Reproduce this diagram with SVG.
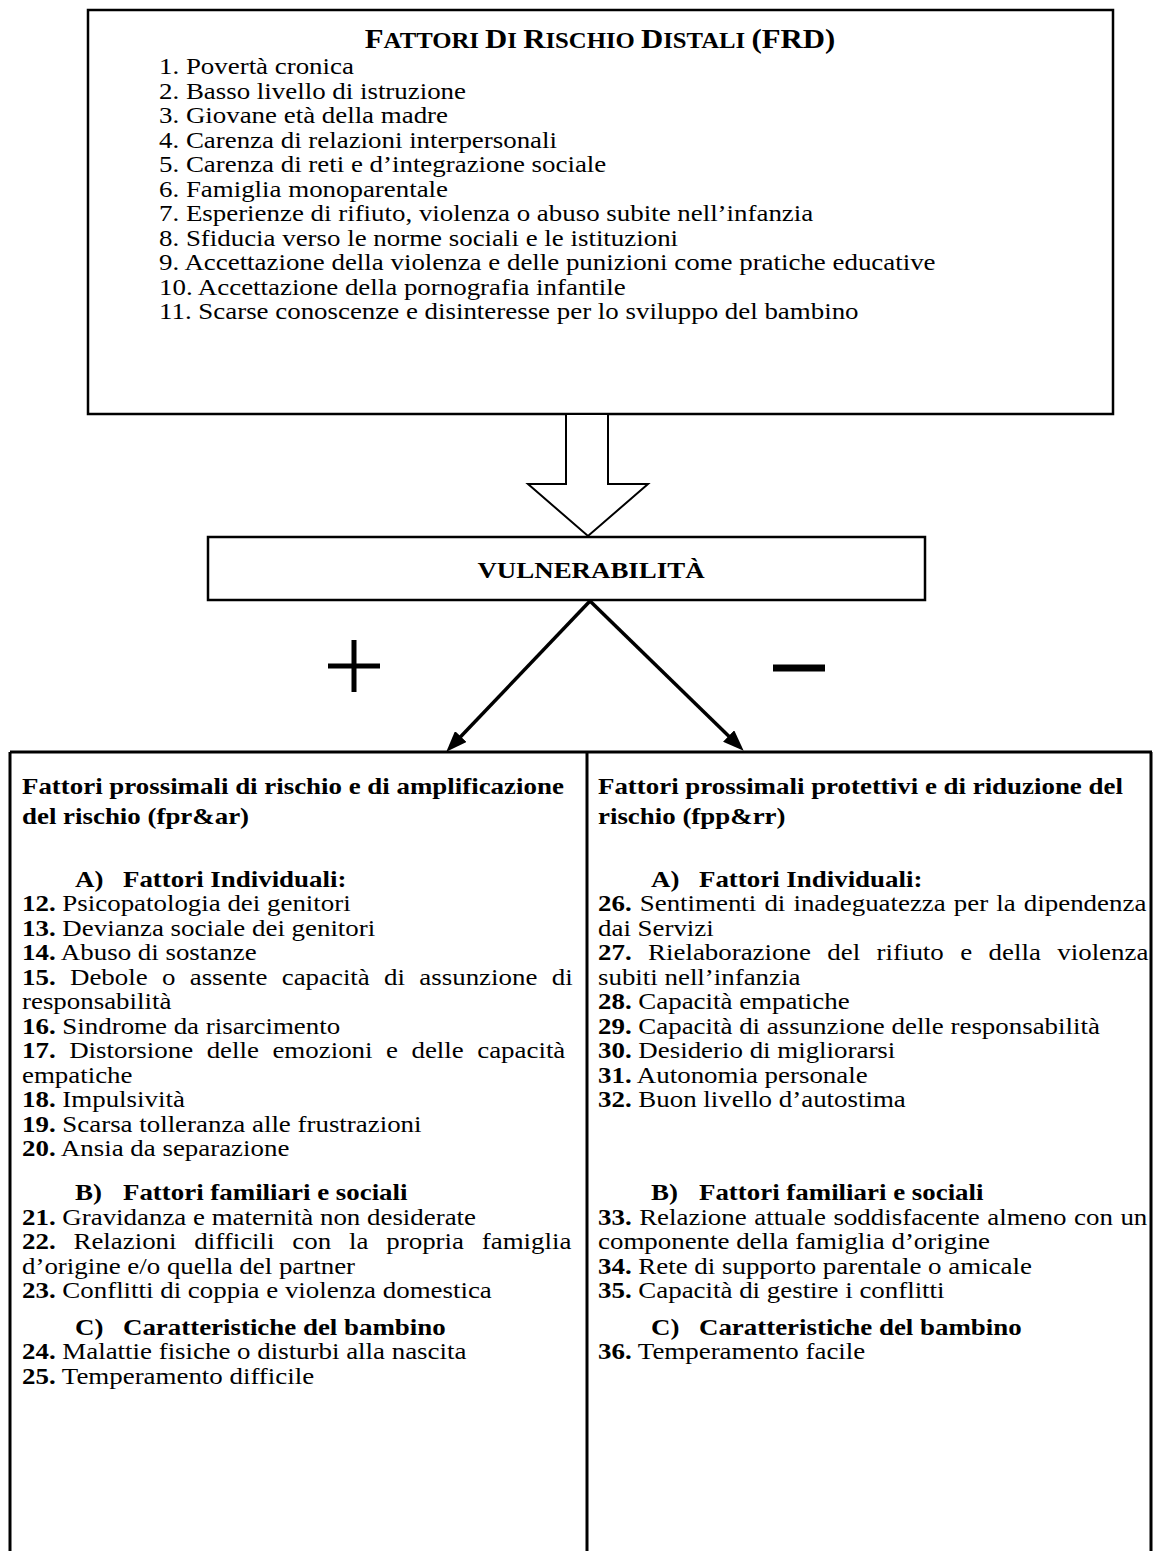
<svg xmlns="http://www.w3.org/2000/svg" width="1153" height="1551" viewBox="0 0 1153 1551">
<style>
text{font-family:"Liberation Serif","Times New Roman",serif;font-size:23px;fill:#000}
.b{font-weight:bold}
.big{font-size:28px}
.sc{font-size:22.5px}
.box{fill:#fff;stroke:#000;stroke-width:2.5}
.ln{fill:none;stroke:#000;stroke-width:3}
.conn{fill:none;stroke:#000;stroke-width:3.5}
</style>
<defs>
<marker id="ah" markerUnits="userSpaceOnUse" markerWidth="22" markerHeight="16" refX="10" refY="8" orient="auto">
<path d="M0,0 L21,8 L0,16 z" fill="#000"/>
</marker>
</defs>
<rect width="1153" height="1551" fill="#fff"/>

<g id="frd">
<rect class="box" x="88" y="10" width="1025" height="404"/>
<g transform="translate(600,0) scale(1.1,1)">
<text class="b" x="0" y="48" text-anchor="middle"><tspan class="big">F</tspan><tspan class="sc">ATTORI </tspan><tspan class="big">D</tspan><tspan class="sc">I </tspan><tspan class="big">R</tspan><tspan class="sc">ISCHIO </tspan><tspan class="big">D</tspan><tspan class="sc">ISTALI </tspan><tspan class="big">(FRD)</tspan></text>
</g>
<g transform="translate(159,0) scale(1.17,1)">
<text x="0" y="74">1. Povertà cronica</text>
<text x="0" y="99">2. Basso livello di istruzione</text>
<text x="0" y="123">3. Giovane età della madre</text>
<text x="0" y="148">4. Carenza di relazioni interpersonali</text>
<text x="0" y="172">5. Carenza di reti e d’integrazione sociale</text>
<text x="0" y="197">6. Famiglia monoparentale</text>
<text x="0" y="221">7. Esperienze di rifiuto, violenza o abuso subite nell’infanzia</text>
<text x="0" y="246">8. Sfiducia verso le norme sociali e le istituzioni</text>
<text x="0" y="270">9. Accettazione della violenza e delle punizioni come pratiche educative</text>
<text x="0" y="295">10. Accettazione della pornografia infantile</text>
<text x="0" y="319">11. Scarse conoscenze e disinteresse per lo sviluppo del bambino</text>
</g>
</g>

<g id="vulnerabilita">
<rect class="box" x="208" y="537" width="717" height="63"/>
<g transform="translate(591,0) scale(1.17,1)">
<text class="b" x="0" y="578" text-anchor="middle">VULNERABILITÀ</text>
</g>
</g>

<g id="connectors">
<polygon points="566,414 608,414 608,484 648,484 588,536 528,484 566,484" fill="#fff" stroke="#000" stroke-width="2"/>
<line class="conn" x1="590" y1="601" x2="453.9" y2="743.8" marker-end="url(#ah)"/>
<line class="conn" x1="590" y1="601" x2="735.8" y2="743" marker-end="url(#ah)"/>
</g>

<g id="signs">
<path d="M328,666 H380 M354,640 V692" fill="none" stroke="#000" stroke-width="5"/>
<path d="M773,668 H825" fill="none" stroke="#000" stroke-width="7"/>
</g>

<g id="frame">
<path class="ln" d="M10,752 H1152 M10,752 V1551 M587,752 V1551 M1151,752 V1551"/>
</g>

<g id="fpr_ar">
<g transform="translate(22,0) scale(1.17,1)">
<text class="b" x="0" y="794">Fattori prossimali di rischio e di amplificazione</text>
<text class="b" x="0" y="824">del rischio (fpr&amp;ar)</text>
<text class="b" x="45.3" y="887">A)</text><text class="b" x="86.3" y="887">Fattori Individuali:</text>
<text x="0" y="911"><tspan class="b">12.</tspan> Psicopatologia dei genitori</text>
<text x="0" y="936"><tspan class="b">13.</tspan> Devianza sociale dei genitori</text>
<text x="0" y="960"><tspan class="b">14.</tspan> Abuso di sostanze</text>
<text x="0" y="985" word-spacing="6.5"><tspan class="b">15.</tspan> Debole o assente capacità di assunzione di</text>
<text x="0" y="1009">responsabilità</text>
<text x="0" y="1034"><tspan class="b">16.</tspan> Sindrome da risarcimento</text>
<text x="0" y="1058" word-spacing="5.8"><tspan class="b">17.</tspan> Distorsione delle emozioni e delle capacità</text>
<text x="0" y="1083">empatiche</text>
<text x="0" y="1107"><tspan class="b">18.</tspan> Impulsività</text>
<text x="0" y="1132"><tspan class="b">19.</tspan> Scarsa tolleranza alle frustrazioni</text>
<text x="0" y="1156"><tspan class="b">20.</tspan> Ansia da separazione</text>
<text class="b" x="45.3" y="1200">B)</text><text class="b" x="86.3" y="1200">Fattori familiari e sociali</text>
<text x="0" y="1225"><tspan class="b">21.</tspan> Gravidanza e maternità non desiderate</text>
<text x="0" y="1249" word-spacing="9.5"><tspan class="b">22.</tspan> Relazioni difficili con la propria famiglia</text>
<text x="0" y="1274">d’origine e/o quella del partner</text>
<text x="0" y="1298"><tspan class="b">23.</tspan> Conflitti di coppia e violenza domestica</text>
<text class="b" x="45.3" y="1335">C)</text><text class="b" x="86.3" y="1335">Caratteristiche del bambino</text>
<text x="0" y="1359"><tspan class="b">24.</tspan> Malattie fisiche o disturbi alla nascita</text>
<text x="0" y="1384"><tspan class="b">25.</tspan> Temperamento difficile</text>
</g>
</g>

<g id="fpp_rr">
<g transform="translate(598,0) scale(1.17,1)">
<text class="b" x="0" y="794">Fattori prossimali protettivi  e di riduzione del</text>
<text class="b" x="0" y="824">rischio (fpp&amp;rr)</text>
<text class="b" x="45.3" y="887">A)</text><text class="b" x="86.3" y="887">Fattori Individuali:</text>
<text x="0" y="911" word-spacing="1.2"><tspan class="b">26.</tspan> Sentimenti di inadeguatezza per la dipendenza</text>
<text x="0" y="936">dai Servizi</text>
<text x="0" y="960" word-spacing="8.3"><tspan class="b">27.</tspan> Rielaborazione del rifiuto e della violenza</text>
<text x="0" y="985">subiti nell’infanzia</text>
<text x="0" y="1009"><tspan class="b">28.</tspan> Capacità empatiche</text>
<text x="0" y="1034"><tspan class="b">29.</tspan> Capacità di assunzione delle responsabilità</text>
<text x="0" y="1058"><tspan class="b">30.</tspan> Desiderio di migliorarsi</text>
<text x="0" y="1083"><tspan class="b">31.</tspan> Autonomia personale</text>
<text x="0" y="1107"><tspan class="b">32.</tspan> Buon livello d’autostima</text>
<text class="b" x="45.3" y="1200">B)</text><text class="b" x="86.3" y="1200">Fattori familiari e sociali</text>
<text x="0" y="1225" word-spacing="0.7"><tspan class="b">33.</tspan> Relazione attuale soddisfacente almeno con un</text>
<text x="0" y="1249">componente della famiglia d’origine</text>
<text x="0" y="1274"><tspan class="b">34.</tspan> Rete di supporto parentale o amicale</text>
<text x="0" y="1298"><tspan class="b">35.</tspan> Capacità di gestire i conflitti</text>
<text class="b" x="45.3" y="1335">C)</text><text class="b" x="86.3" y="1335">Caratteristiche del bambino</text>
<text x="0" y="1359"><tspan class="b">36.</tspan> Temperamento facile</text>
</g>
</g>
</svg>
